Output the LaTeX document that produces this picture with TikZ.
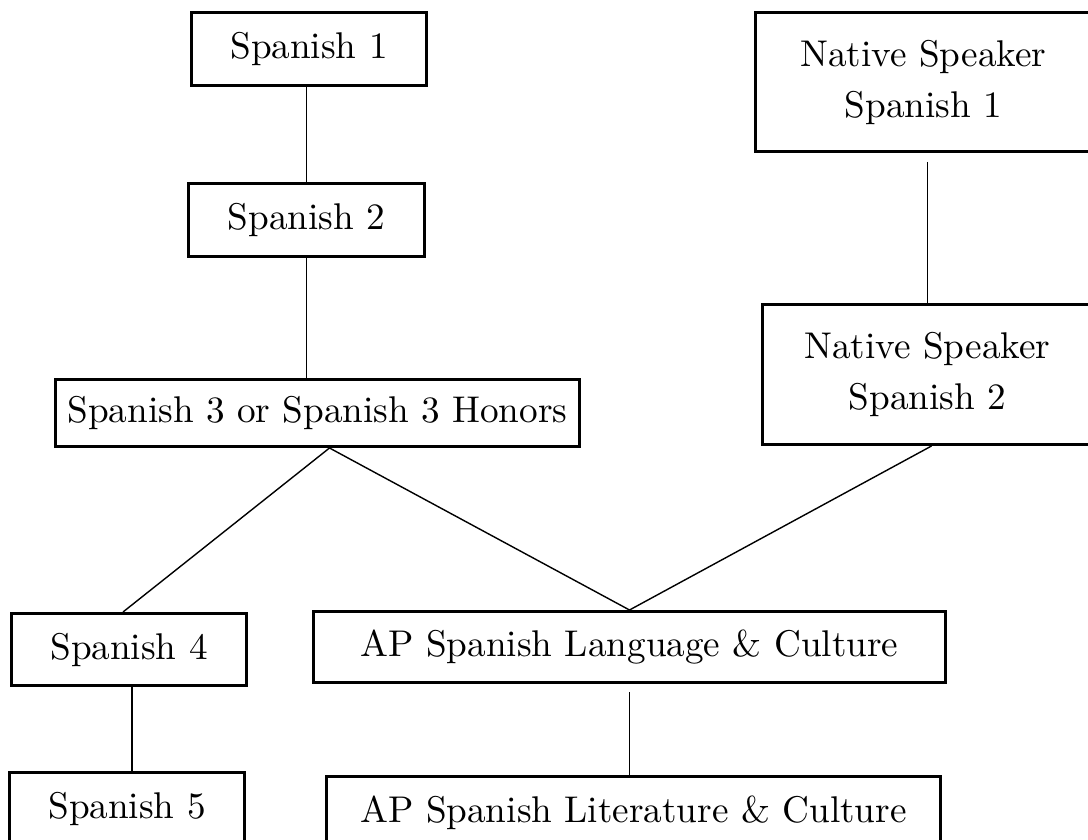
\documentclass[tikz,border=0pt]{standalone}
\usepackage{fontspec}
\setmainfont{lmroman10-regular.otf}
\usetikzlibrary{positioning}

\begin{document}
\begin{tikzpicture}[x=0.5pt,y=-0.5pt]
    % Course chart TiKZ Style
    \tikzstyle{course}=[draw,line width=1.5pt,inner sep=0pt,align=center,
                        font={\fontsize{18.6}{25.5}\selectfont}]
    \tikzstyle{link}=[line width=0.7pt]

    \useasboundingbox (0,0) rectangle (1088,840);

    % Nodes, positions, and labels
    \node[course,minimum width=117.5pt,minimum height=36.5pt] (sp_1) at (309,49) {Spanish 1};
    \node[course,minimum width=118pt,minimum height=36.5pt]   (sp_2) [below=47.5pt of sp_1,xshift=-1.25pt] {Spanish 2};
    \node[course,minimum width=262pt,minimum height=33.5pt]   (sp_3) [below=60pt of sp_2,xshift=5.5pt] {Spanish 3 or Spanish 3 Honors};

    \node[course,minimum width=168pt,minimum height=69.5pt] (ns_1) at (923.5,82) {Native Speaker\\Spanish 1};
    \node[course,minimum width=165pt,minimum height=70pt]   (ns_2) [below=75pt of ns_1,xshift=2pt] {Native Speaker\\Spanish 2};

    \node[course,minimum width=117.5pt,minimum height=36pt] (sp_4) at (129,649.5) {Spanish 4};
    \node[course,minimum width=117.5pt,minimum height=36pt] (sp_5) [below=42pt of sp_4,xshift=-1pt] {Spanish 5};

    \node[course,minimum width=316pt,minimum height=35.5pt] (ap_l) at (629.5,647) {AP Spanish Language \& Culture};
    \node[course,minimum width=307pt,minimum height=36pt]   (ap_t) [below=45.5pt of ap_l,xshift=2pt] {AP Spanish Literature \& Culture};

    % Edges
    \path[link]
    (sp_2.north |- sp_1.south)    edge (sp_2.north)
    (sp_2.south)                  edge (sp_2.south |- sp_3.north)
    (ns_2.north |- ns_1.south)    edge [shorten <=4.5pt] (ns_2.north)
    ([xshift=6pt]sp_3.south)      edge ([xshift=-3pt]sp_4.north)
                                  edge (ap_l.north)
    ([xshift=2pt]ns_2.south)      edge (ap_l.north)
    ([xshift=1.5pt]sp_4.south)    edge ([xshift=1.5pt]sp_4.south |- sp_5.north)
    (ap_l.south)                  edge [shorten <=4pt] (ap_l.south |- ap_t.north);

\end{tikzpicture}
\end{document}
